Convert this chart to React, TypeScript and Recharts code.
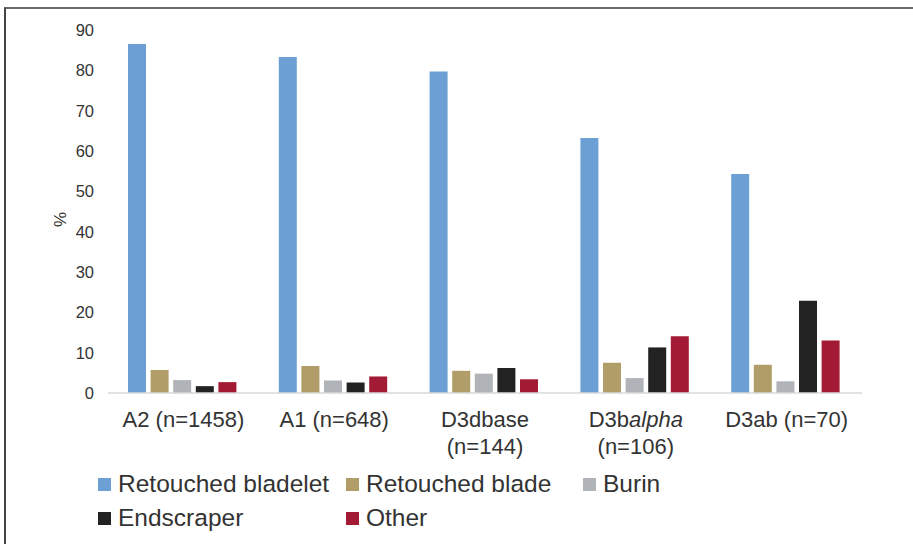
import { BarChart, Bar, XAxis, YAxis } from "recharts";

const categories = ["A2 (n=1458)", "A1 (n=648)", "D3dbase (n=144)", "D3balpha (n=106)", "D3ab (n=70)"];
// tick text per category, one entry per line; *...* is italic
const tickLines = [["A2 (n=1458)"], ["A1 (n=648)"], ["D3dbase", "(n=144)"], ["D3b*alpha*", "(n=106)"], ["D3ab (n=70)"]];

const bladelet = [86.5, 83.3, 79.7, 63.2, 54.3];
const blade = [5.7, 6.7, 5.5, 7.5, 7.0];
const burin = [3.2, 3.1, 4.8, 3.7, 2.9];
const endscraper = [1.7, 2.6, 6.2, 11.3, 22.9];
const other = [2.7, 4.1, 3.4, 14.1, 13.0];

const yTicks = [0, 10, 20, 30, 40, 50, 60, 70, 80, 90];

const series = [
  { key: "bladelet", name: "Retouched bladelet", color: "#6ca0d4" },
  { key: "blade", name: "Retouched blade", color: "#b19d68" },
  { key: "burin", name: "Burin", color: "#b0b4b8" },
  { key: "endscraper", name: "Endscraper", color: "#222222" },
  { key: "other", name: "Other", color: "#a31a35" },
];

const data = categories.map((c, i) => ({
  name: c,
  bladelet: bladelet[i],
  blade: blade[i],
  burin: burin[i],
  endscraper: endscraper[i],
  other: other[i],
}));

const FONT = '"Liberation Sans", Arial, sans-serif';
const TEXT = "#333333";

// legend grid: [left, top] of each item
const legendPos = [
  [98, 469],
  [346, 469],
  [583, 469],
  [98, 503],
  [346, 503],
];

function CategoryTick({ x, y, payload }: any) {
  const idx = categories.indexOf(payload.value);
  const lines = tickLines[idx] || [payload.value];
  return (
    <text x={x} y={y} textAnchor="middle" fill={TEXT} style={{ fontSize: 22, fontFamily: FONT }}>
      {lines.map((line, li) => (
        <tspan key={li} x={x} y={y + 34 + li * 27}>
          {line.split("*").map((seg, si) =>
            si % 2 === 1 ? (
              <tspan key={si} fontStyle="italic">{seg}</tspan>
            ) : (
              <tspan key={si}>{seg}</tspan>
            )
          )}
        </tspan>
      ))}
    </text>
  );
}

export default function App() {
  return (
    <div style={{ position: "absolute", left: 0, top: 0, width: 913, height: 544, background: "#fff", overflow: "hidden" }}>
      <div
        style={{
          position: "absolute",
          left: 4,
          top: 7,
          width: 920,
          height: 560,
          borderTop: "2px solid #6a6a6a",
          borderLeft: "2px solid #444",
        }}
      />
      <div style={{ position: "absolute", left: 0, top: 0 }}>
        <BarChart
          width={913}
          height={544}
          data={data}
          margin={{ top: 30, right: 51, left: 0, bottom: 51 }}
          barCategoryGap={20}
          barGap={4.6}
        >
          <XAxis
            dataKey="name"
            height={100}
            tickLine={false}
            tickSize={0}
            tickMargin={0}
            axisLine={{ stroke: "#d9d9d9", strokeWidth: 1.5 }}
            tick={<CategoryTick />}
            interval={0}
          />
          <YAxis
            width={108}
            domain={[0, 90]}
            ticks={yTicks}
            axisLine={false}
            tickLine={false}
            tickSize={0}
            tickMargin={14}
            tick={{ fill: TEXT, fontSize: 16.5, fontFamily: FONT }}
            label={{
              value: "%",
              angle: -90,
              position: "insideLeft",
              dx: 55,
              dy: 8,
              style: { fill: TEXT, fontSize: 17, fontFamily: FONT, textAnchor: "middle" },
            }}
          />
          {series.map((s) => (
            <Bar key={s.key} dataKey={s.key} name={s.name} fill={s.color} isAnimationActive={false} />
          ))}
        </BarChart>
      </div>
      {series.map((s, i) => (
        <div
          key={s.key}
          style={{
            position: "absolute",
            left: legendPos[i][0],
            top: legendPos[i][1],
            height: 30,
            display: "flex",
            alignItems: "center",
            fontFamily: FONT,
            fontSize: 24.5,
            color: TEXT,
            whiteSpace: "nowrap",
          }}
        >
          <span style={{ width: 13, height: 13, background: s.color, marginRight: 7, display: "inline-block" }} />
          <span>{s.name}</span>
        </div>
      ))}
    </div>
  );
}
